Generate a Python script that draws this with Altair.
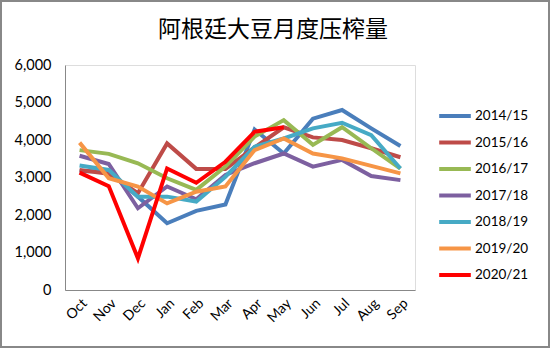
import altair as alt
import pandas as pd

months = ["Oct", "Nov", "Dec", "Jan", "Feb", "Mar", "Apr", "May", "Jun", "Jul", "Aug", "Sep"]
seasons = ["2014/15", "2015/16", "2016/17", "2017/18", "2018/19", "2019/20", "2020/21"]
colors = ["#4A7EBB", "#BE4B48", "#98B954", "#7D60A0", "#46AAC5", "#F69546", "#FF0000"]
title_text = ["阿根廷大豆月度压榨量"]

s2014 = [3170, 3170, 2490, 1780, 2110, 2280, 4280, 3640, 4570, 4800, 4310, 3840]
s2015 = [3200, 3100, 2580, 3910, 3230, 3230, 3800, 4340, 4070, 4000, 3780, 3540]
s2016 = [3730, 3630, 3380, 2980, 2670, 3290, 4090, 4530, 3870, 4340, 3780, 3240]
s2017 = [3580, 3360, 2180, 2760, 2420, 3070, 3380, 3640, 3290, 3470, 3040, 2930]
s2018 = [3320, 3200, 2490, 2490, 2360, 3020, 3820, 4040, 4310, 4460, 4130, 3240]
s2019 = [3930, 2980, 2760, 2310, 2620, 2760, 3730, 4040, 3640, 3510, 3310, 3110]
s2020 = [3130, 2770, 845, 3240, 2860, 3420, 4220, 4340]

series = [s2014, s2015, s2016, s2017, s2018, s2019, s2020]
rows = []
for name, vals in zip(seasons, series):
    for i, v in enumerate(vals):
        rows.append({"month": months[i], "season": name, "value": v, "order": i})
df = pd.DataFrame(rows)

FONT = "Lato"

lines = alt.Chart(df).mark_line(strokeWidth=4, strokeJoin="miter").encode(
    x=alt.X("month:N", sort=months, scale=alt.Scale(type="point", padding=0.5),
            axis=alt.Axis(title=None, labelAngle=315, ticks=False, domainColor="#888888",
                          labelFontSize=14, labelFont=FONT, labelColor="#000000", labelPadding=6)),
    y=alt.Y("value:Q", scale=alt.Scale(domain=[0, 6000], nice=False),
            axis=alt.Axis(title=None, values=[0, 1000, 2000, 3000, 4000, 5000, 6000], format=",.0f",
                          grid=False, ticks=False, domainColor="#888888", labelFontSize=14.5,
                          labelFont=FONT, labelColor="#000000", labelPadding=14)),
    color=alt.Color("season:N", scale=alt.Scale(domain=seasons, range=colors),
                    legend=alt.Legend(title=None, orient="none", legendX=372, legendY=33,
                                      symbolType="stroke", symbolStrokeWidth=4, symbolSize=1000,
                                      labelFontSize=13.5, labelFont=FONT, labelColor="#000000",
                                      rowPadding=0.5, labelOffset=2)),
    order="order:Q",
)

border = alt.Chart(df).mark_rect(filled=False, stroke="#888888", strokeWidth=2, clip=False).encode(
    x=alt.value(-64), x2=alt.value(484), y=alt.value(-64), y2=alt.value(282)
)

title = alt.Chart(pd.DataFrame({"t": title_text})).mark_text(
    font="Noto Sans CJK SC", fontSize=23, color="#000000", align="center", baseline="middle"
).encode(text="t:N", x=alt.value(208), y=alt.value(-35))

chart = alt.layer(border, title, lines).properties(
    width=350, height=225,
    autosize=alt.AutoSizeParams(type="none"),
    padding={"left": 65, "top": 65, "right": 135, "bottom": 58},
).configure_view(stroke=None).configure(background="white")

chart.save("out.html", embed_options={"renderer": "svg", "actions": False})
